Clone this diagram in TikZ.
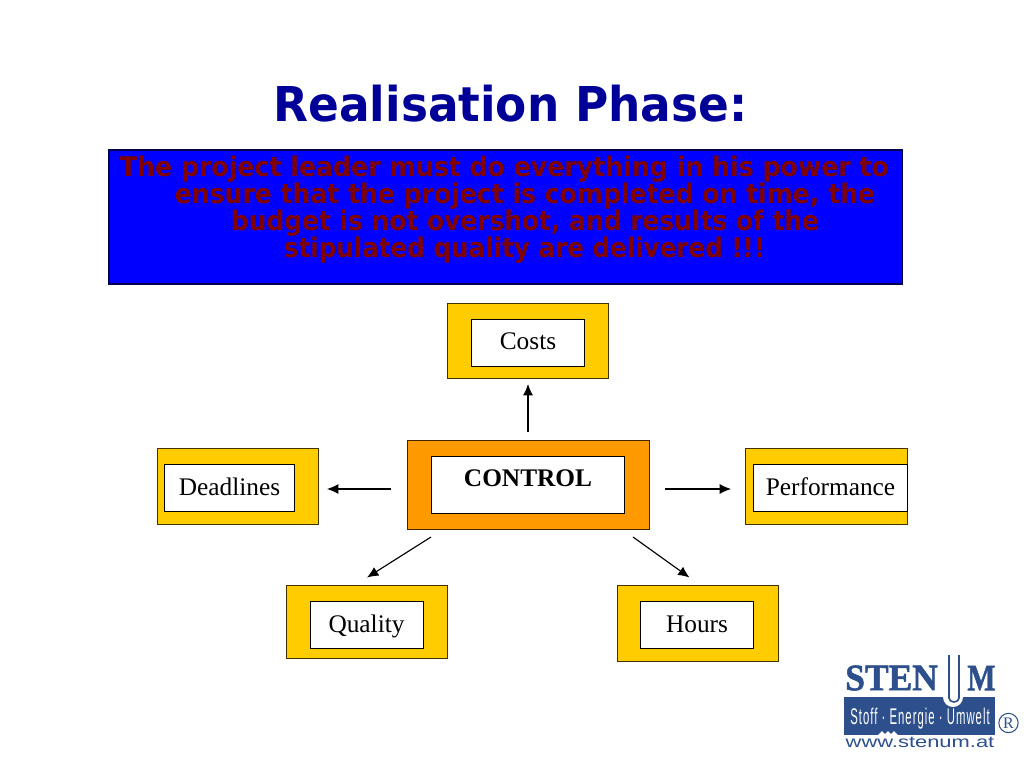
\documentclass[tikz,border=0pt]{standalone}
\usepackage{fontspec}
\usepackage{graphicx}
\setmainfont{Liberation Serif}
\newfontfamily\boxfont{DejaVu Sans}
\newfontfamily\logosans{Liberation Sans}
\newfontfamily\logospaced[LetterSpace=9]{Liberation Sans}
\newfontfamily\logoserif[BoldFeatures={FakeBold=1.5}]{Liberation Serif}
\definecolor{navy}{RGB}{0,0,153}
\definecolor{pure}{RGB}{0,0,255}
\definecolor{maroon}{RGB}{128,0,0}
\definecolor{gold}{RGB}{255,204,0}
\definecolor{amber}{RGB}{255,153,0}
\definecolor{logoblue}{RGB}{45,80,140}
\usetikzlibrary{arrows.meta}
\tikzset{
  x=0.75pt,y=-0.75pt,
  outerbox/.style={draw=black!75!gold,line width=0.7pt,fill=gold},
  ctlbox/.style={draw=black!75!amber,line width=0.7pt,fill=amber},
  innerbox/.style={draw=black,line width=0.7pt,fill=white,inner sep=0pt,minimum height=35.25pt},
  boxlabel/.style={inner sep=0pt,font=\fontsize{19pt}{20pt}\selectfont,text=black},
  link/.style={line width=0.85pt,-{Latex[length=8.5pt,width=7.5pt]}},
  banner/.style={font=\boxfont\bfseries\fontsize{20.3pt}{20.6pt}\selectfont,text=maroon,inner sep=0pt,anchor=center},
}
\begin{document}
\begin{tikzpicture}
\useasboundingbox (0,0) rectangle (1024,768);
\fill[white] (0,0) rectangle (1024,768);
% title
\node[inner sep=0pt,text=navy] (title) at (510.5,104) {\scalebox{0.946}[1]{\boxfont\bfseries\fontsize{36pt}{40pt}\selectfont Realisation Phase:}};
% banner
\path[fill=pure,draw=black!70!blue,line width=0.8pt] (109,150) rectangle (902.5,284);
\node[banner] (l1) at (504.5,169) {\scalebox{0.932}[1]{The project leader must do everything in his power to}};
\node[banner] (l2) at (525,196) {\scalebox{0.927}[1]{ensure that the project is completed on time, the}};
\node[banner] (l3) at (525,223) {\scalebox{0.92}[1]{budget is not overshot, and results of the}};
\node[banner] (l4) at (524.5,250) {\scalebox{0.909}[1]{stipulated quality are delivered !!!}};
% outer boxes
\path[outerbox] (447.5,303.5) rectangle (608.5,378.5);
\path[outerbox] (157.5,448.5) rectangle (318.5,524);
\path[outerbox] (745.5,448.5) rectangle (907.5,524);
\path[outerbox] (286,585.5) rectangle (447.5,658.5);
\path[outerbox] (617,585.5) rectangle (778,661);
\path[ctlbox] (407,440.5) rectangle (649,529);
% inner boxes
\node[innerbox,minimum width=84.75pt] (costs) at (528,343) {};
\node[boxlabel] (costst) at (528,341) {Costs};
\node[innerbox,minimum width=97.5pt] (deadlines) at (229.5,488) {};
\node[boxlabel] (deadlinest) at (229.5,487) {Deadlines};
\node[innerbox,minimum width=115.5pt] (performance) at (830.5,488) {};
\node[boxlabel] (performancet) at (830.5,487) {Performance};
\node[innerbox,minimum width=84.75pt] (quality) at (366.5,625) {};
\node[boxlabel] (qualityt) at (366.5,626) {Quality};
\node[innerbox,minimum width=84.75pt] (hours) at (697,625) {};
\node[boxlabel] (hourst) at (697,624) {Hours};
\node[draw=black,line width=0.7pt,fill=white,minimum width=145pt,minimum height=42.5pt,inner sep=0pt] (control) at (528,485) {};
\node[font=\bfseries\fontsize{19pt}{20pt}\selectfont,inner sep=0pt] (controltext) at (528,478) {CONTROL};
% arrow ends
\coordinate (cU) at (528,432);
\coordinate (eU) at (528,384);
\coordinate (cL) at (391,489);
\coordinate (eL) at (327,489);
\coordinate (cR) at (665,489);
\coordinate (eR) at (731,489);
\coordinate (cQ) at (431,537);
\coordinate (eQ) at (367,577.5);
\coordinate (cH) at (633,537);
\coordinate (eH) at (689.5,577.5);
\draw[link] (cU) -- (eU);
\draw[link] (cL) -- (eL);
\draw[link] (cR) -- (eR);
\draw[link] (cQ) -- (eQ);
\draw[link] (cH) -- (eH);
% logo
\node[anchor=west,inner sep=0pt,text=logoblue] (sten) at (845,678) {\scalebox{0.95}[1]{\logoserif\bfseries\fontsize{28pt}{30pt}\selectfont STEN}};
\node[anchor=west,inner sep=0pt,text=logoblue] (m) at (967,678) {\scalebox{0.8}[1]{\logoserif\bfseries\fontsize{28pt}{30pt}\selectfont M}};
\fill[logoblue] (844,697) rectangle (995,735);
\path[fill=white] (943,654) -- (943,697) arc[start angle=180,end angle=360,x radius=10,y radius=-10] -- (963,654) -- cycle;
\path[draw=logoblue,line width=1.2pt] (949,655) -- (949,698) arc[start angle=180,end angle=360,x radius=5,y radius=-4] -- (959,655);
\path[fill=white] (878,735) -- (882,731) -- (885,734) -- (888,731) -- (891,734) -- (894,731) -- (898,735) -- cycle;
\node[inner sep=0pt,text=white] (slogan) at (920,719) {\scalebox{0.5}[1]{\logospaced\fontsize{17pt}{18pt}\selectfont Stoff · Energie · Umwelt}};
\node[inner sep=0pt,text=logoblue] (web) at (920,742) {\scalebox{1.37}[1]{\logosans\fontsize{12pt}{13pt}\selectfont www.stenum.at}};
\node[circle,draw=logoblue,line width=0.8pt,inner sep=0pt,minimum size=14.5pt,text=logoblue,font=\fontsize{12pt}{13pt}\selectfont] (reg) at (1008.5,723) {R};
\end{tikzpicture}
\end{document}
